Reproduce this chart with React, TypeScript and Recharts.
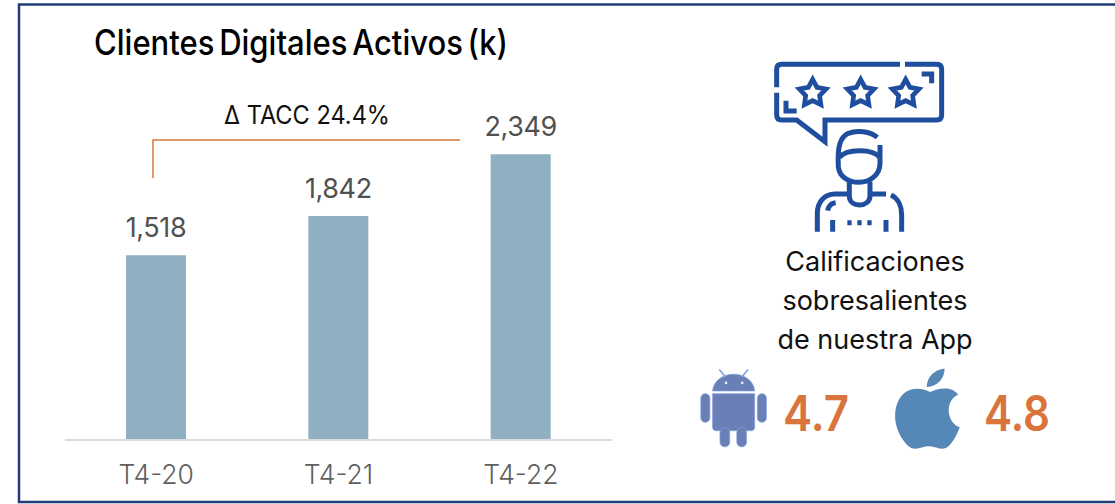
import { Bar, BarChart, LabelList, XAxis, YAxis } from "recharts";

const PERIODS = ["T4-20", "T4-21", "T4-22"];
const CLIENTS = [1518, 1842, 2349];
const APP_TEXT = ["Calificaciones", "sobresalientes", "de nuestra App"];

const data = PERIODS.map((period, i) => ({ period, clients: CLIENTS[i] }));

const FONT = "Inter, 'Noto Sans', sans-serif";
const NAVY = "#1f3b78";
const ICON_BLUE = "#1f4e9e";
const ORANGE = "#d8743c";
const BAR = "#8fb0c0";

function starPoints(cx: number, cy: number, outer: number, inner: number) {
  const pts: string[] = [];
  for (let i = 0; i < 10; i++) {
    const r = i % 2 === 0 ? outer : inner;
    const a = -Math.PI / 2 + (i * Math.PI) / 5;
    pts.push(`${cx + r * Math.cos(a)},${cy + r * Math.sin(a)}`);
  }
  return pts.join(" ");
}

function ReviewIcon() {
  return (
    <g
      transform="translate(760,50) scale(0.3333)"
      fill="none"
      stroke={ICON_BLUE}
      strokeWidth={15}
    >
      <path d="M420 43H65Q50 43 50 58V112M50 128V195Q50 210 65 210H110L195 275V210H530Q545 210 545 195V58Q545 43 530 43H435" />
      <path d="M78 152V183H110M485 72H515V100" />
      {[158, 302, 437].map((cx) => (
        <polygon key={cx} points={starPoints(cx, 130, 42, 22)} strokeWidth={14} strokeLinejoin="miter" />
      ))}
      <path d="M352 262C330 243 290 240 265 250C240 262 232 290 235 350C238 380 265 397 297 397C330 397 360 375 360 340V285" />
      <path d="M238 322C258 298 335 293 360 322" />
      <path d="M268 395V438C268 458 285 465 298 465C315 465 330 455 330 438V395" />
      <path d="M268 432H225C190 432 172 460 172 490V545M330 432H378M393 435C415 445 425 470 425 495V545" />
      <path d="M203 482C205 467 212 460 227 458M218 510V545M378 510V545" />
      <path d="M262 518H275M292 518H305M322 518H335" />
    </g>
  );
}

function AndroidIcon() {
  return (
    <g transform="translate(689,360) scale(0.3367)" fill="#6a7fb5" stroke="#84a0e2" strokeWidth={2}>
      <path d="M70 92C72 62 100 42 132 42C165 42 193 62 195 92Z" />
      <path d="M90 28L108 50M175 28L158 50" strokeWidth={5} />
      <circle cx={110} cy={68} r={4} fill="#e4ebfa" stroke="none" />
      <circle cx={158} cy={68} r={4} fill="#e4ebfa" stroke="none" />
      <path d="M70 100H195V200Q195 210 185 210H80Q70 210 70 200Z" />
      <rect x={35} y={100} width={27} height={85} rx={13} />
      <rect x={203} y={100} width={27} height={85} rx={13} />
      <rect x={92} y={200} width={29} height={58} rx={14} />
      <rect x={142} y={200} width={29} height={58} rx={14} />
    </g>
  );
}

function AppleIcon() {
  return (
    <g transform="translate(687,360) scale(0.3367)" fill="#5588b7">
      <path d="M712 80C712 50 735 28 765 25C765 55 745 78 712 80Z" />
      <path d="M722 95C700 82 650 75 628 120C605 170 625 225 660 258C675 270 695 258 715 256C740 254 755 272 775 258C790 245 803 220 810 200C770 185 765 120 805 103C785 75 745 85 722 95Z" />
    </g>
  );
}

export default function App() {
  return (
    <div style={{ position: "absolute", left: 0, top: 0, width: 1115, height: 504, background: "#fff", overflow: "hidden" }}>
      <BarChart
        width={1115}
        height={504}
        data={data}
        margin={{ top: 75, right: 503, bottom: 0, left: 65 }}
        style={{ position: "absolute", left: 0, top: 0 }}
      >
        <YAxis hide domain={[0, 3000]} />
        <XAxis
          dataKey="period"
          axisLine={{ stroke: "#dcdcdc", strokeWidth: 2 }}
          tickLine={false}
          tickMargin={19}
          height={64}
          tick={{ fontSize: 26.5, fill: "#5f5f5f", fontFamily: FONT, fontWeight: 300 }}
        />
        <Bar dataKey="clients" fill={BAR} barSize={60} isAnimationActive={false}>
          <LabelList
            dataKey="clients"
            position="top"
            offset={18}
            formatter={(v: any) => Number(v).toLocaleString("en-US")}
            style={{ fontSize: 27, fill: "#505050", fontFamily: FONT, letterSpacing: -0.4 }}
          />
        </Bar>
      </BarChart>
      <svg width={1115} height={504} style={{ position: "absolute", left: 0, top: 0, pointerEvents: "none" }}>
        <path d="M1120 4.5H19V502H1120" fill="none" stroke={NAVY} strokeWidth={2.5} />
        <text x={94} y={55} fontFamily={FONT} fontSize={35} fontWeight={500} fill="#000" wordSpacing={-4} textLength={414} lengthAdjust="spacingAndGlyphs">
          Clientes Digitales Activos (k)
        </text>
        <text x={224} y={124} fontFamily={FONT} fontSize={25} fill="#111" textLength={166} lengthAdjust="spacingAndGlyphs">
          Δ TACC 24.4%
        </text>
        <path d="M153 178V140H460" fill="none" stroke={ORANGE} strokeWidth={1.5} />
        <ReviewIcon />
        {APP_TEXT.map((line, i) => (
          <text key={line} x={875} y={271 + i * 39} textAnchor="middle" fontFamily={FONT} fontSize={27} fill="#111">
            {line}
          </text>
        ))}
        <AndroidIcon />
        <AppleIcon />
        <text x={783} y={431} fontFamily={FONT} fontSize={49} fontWeight={600} fill={ORANGE} textLength={66} lengthAdjust="spacingAndGlyphs">4.7</text>
        <text x={984} y={431} fontFamily={FONT} fontSize={49} fontWeight={600} fill={ORANGE} textLength={66} lengthAdjust="spacingAndGlyphs">4.8</text>
      </svg>
    </div>
  );
}
